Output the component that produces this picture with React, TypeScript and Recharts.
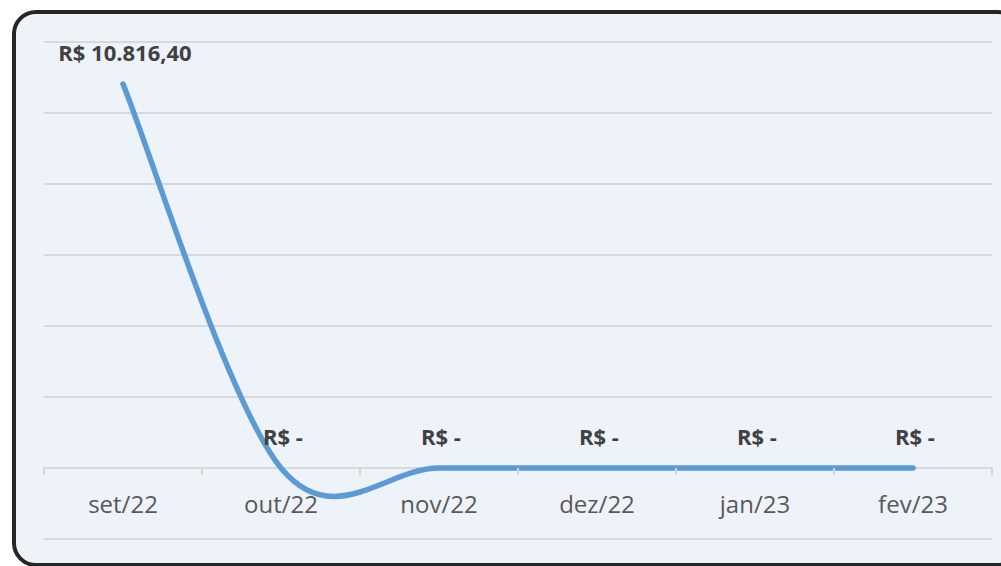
import React from "react";
import { LineChart, Line, XAxis, YAxis, CartesianGrid, LabelList } from "recharts";

const months = ["set/22", "out/22", "nov/22", "dez/22", "jan/23", "fev/23"];
const amounts = [10816.4, 0, 0, 0, 0, 0];
const yTicks = [-2000, 0, 2000, 4000, 6000, 8000, 10000, 12000];

const data = months.map((month, i) => ({ month, amount: amounts[i] }));

const W = 1001;
const H = 566;
const MARGIN = { top: 42, right: 9, left: 44, bottom: 0 };
const AXIS_H = 27;
const Y_MIN = yTicks[0];
const Y_MAX = yTicks[yTicks.length - 1];
const PLOT_W = W - MARGIN.left - MARGIN.right;
const PLOT_H = H - MARGIN.top - MARGIN.bottom - AXIS_H;
const BAND = PLOT_W / months.length;
const ZERO_FROM_BOTTOM = (PLOT_H * (0 - Y_MIN)) / (Y_MAX - Y_MIN);

// smoothed line like the office "smoothed line" option (catmull-rom bezier)
function smoothCurve(context: any) {
  let pts: [number, number][] = [];
  return {
    areaStart() {},
    areaEnd() {},
    lineStart() {
      pts = [];
    },
    point(x: number, y: number) {
      pts.push([+x, +y]);
    },
    lineEnd() {
      const n = pts.length;
      if (!n) return;
      context.moveTo(pts[0][0], pts[0][1]);
      for (let i = 0; i < n - 1; i++) {
        const p0 = pts[Math.max(i - 1, 0)];
        const p1 = pts[i];
        const p2 = pts[i + 1];
        const p3 = pts[Math.min(i + 2, n - 1)];
        context.bezierCurveTo(
          p1[0] + (p2[0] - p0[0]) / 6,
          p1[1] + (p2[1] - p0[1]) / 6,
          p2[0] - (p3[0] - p1[0]) / 6,
          p2[1] - (p3[1] - p1[1]) / 6,
          p2[0],
          p2[1]
        );
      }
    },
  };
}

const brl = (v: number) =>
  v === 0
    ? "R$ -"
    : "R$ " + v.toLocaleString("pt-BR", { minimumFractionDigits: 2, maximumFractionDigits: 2 });

function MonthTick(props: any) {
  const { x, y, payload, index } = props;
  const zeroY = y - ZERO_FROM_BOTTOM;
  const left = x - BAND / 2;
  return (
    <g>
      <line x1={left} x2={left} y1={zeroY} y2={zeroY + 7} stroke="#d4d4d4" strokeWidth={2} />
      {index === months.length - 1 && (
        <line x1={x + BAND / 2} x2={x + BAND / 2} y1={zeroY} y2={zeroY + 7} stroke="#d4d4d4" strokeWidth={2} />
      )}
      <text
        x={x}
        y={zeroY + 35}
        textAnchor="middle"
        dominantBaseline="central"
        fill="#595959"
        fontSize={24}
        fontFamily="'Open Sans', sans-serif"
      >
        {payload.value}
      </text>
    </g>
  );
}

function ValueLabel(props: any) {
  const { x, y, value } = props;
  return (
    <text
      x={x + 2}
      y={y - 32}
      textAnchor="middle"
      dominantBaseline="central"
      fill="#404040"
      fontSize={22}
      fontWeight="bold"
      fontFamily="'Open Sans', sans-serif"
    >
      {brl(value)}
    </text>
  );
}

export default function App() {
  return (
    <div style={{ position: "fixed", inset: 0, overflow: "hidden", background: "#fff" }}>
      <div
        style={{
          position: "absolute",
          left: 12,
          top: 10,
          width: 1010,
          height: 557,
          boxSizing: "border-box",
          border: "4px solid #262626",
          borderRadius: 24,
          background: "#eef2f9",
        }}
      />
      <div style={{ position: "absolute", left: 0, top: 0 }}>
        <LineChart width={W} height={H} data={data} margin={MARGIN}>
          <CartesianGrid horizontal vertical={false} stroke="#d9d9d9" strokeWidth={2} />
          <XAxis
            dataKey="month"
            height={AXIS_H}
            axisLine={false}
            tickLine={false}
            tickSize={0}
            tickMargin={0}
            interval={0}
            padding={{ left: BAND / 2, right: BAND / 2 }}
            tick={<MonthTick />}
          />
          <YAxis hide domain={[Y_MIN, Y_MAX]} ticks={yTicks} />
          <Line
            type={smoothCurve as any}
            dataKey="amount"
            stroke="#5b9bd5"
            strokeWidth={5.5}
            strokeLinecap="round"
            dot={false}
            activeDot={false}
            isAnimationActive={false}
          >
            <LabelList dataKey="amount" content={<ValueLabel />} />
          </Line>
        </LineChart>
      </div>
    </div>
  );
}
